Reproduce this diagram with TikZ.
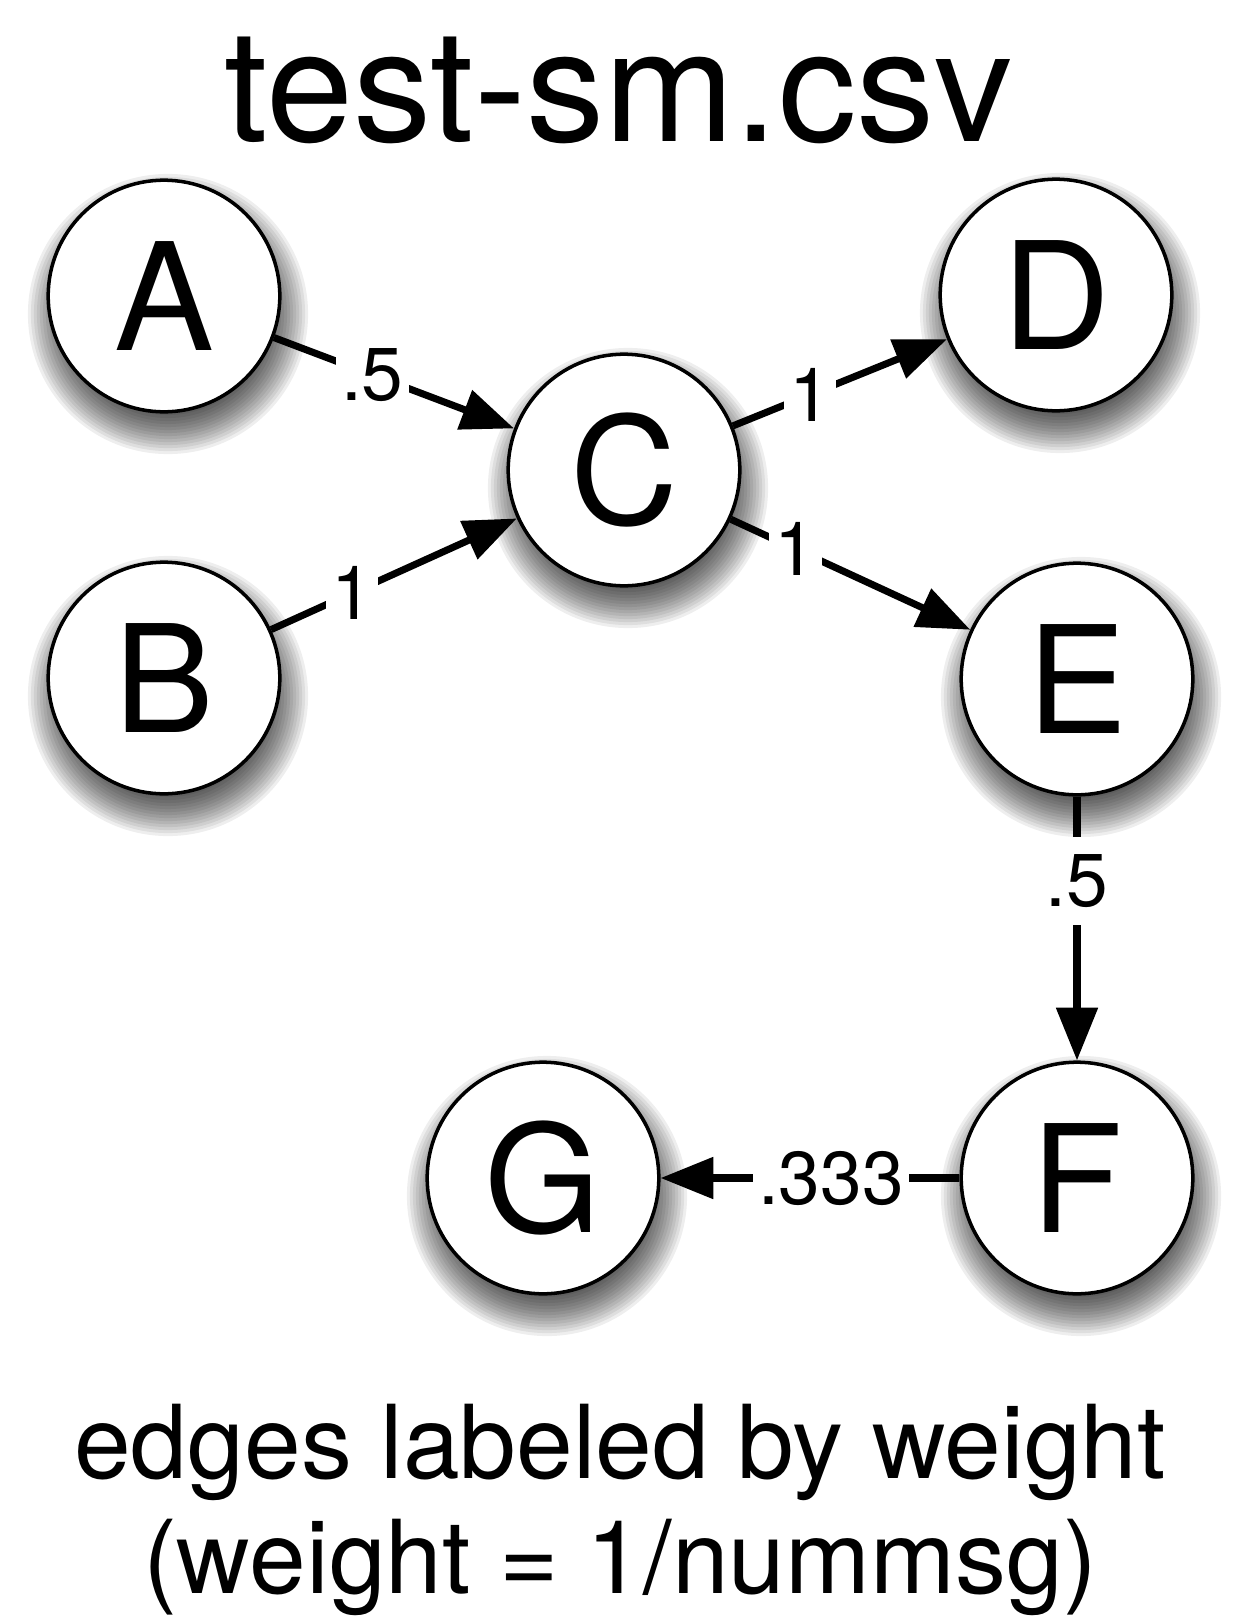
\documentclass[tikz,border=0pt]{standalone}
\usepackage{fontspec}
\setmainfont{TeX Gyre Heros}
\usetikzlibrary{arrows.meta,backgrounds}

\tikzset{
  vtx/.style={circle, draw, line width=1pt, fill=white, minimum size=2.315cm,
    inner sep=0pt, font=\fontsize{42.5}{42.5}\selectfont},
  wedge/.style={line width=2pt, -{Triangle[length=15pt,width=11.5pt]}},
  wt/.style={fill=white, inner xsep=1.5pt, inner ysep=5pt,
    font=\fontsize{21.3}{21.3}\selectfont},
  bigtext/.style={anchor=base, font=\fontsize{44.5}{44.5}\selectfont},
  captext/.style={anchor=base, font=\fontsize{29}{29}\selectfont}
}

\begin{document}
\begin{tikzpicture}[x=0.01cm,y=-0.01cm]
  \useasboundingbox (0,0) rectangle (1237,1624);
  \node[bigtext] (title) at (619,141) {test-sm.csv};
  % vertices
  \node[vtx] (A) at (164,296) {A};
  \node[vtx] (B) at (164,678) {B};
  \node[vtx] (C) at (624,470) {C};
  \node[vtx] (D) at (1056,295) {D};
  \node[vtx] (E) at (1077,679) {E};
  \node[vtx] (F) at (1077,1178) {F};
  \node[vtx] (G) at (543,1178) {G};
  % weighted edges
  \draw[wedge] (A) -- node[wt,pos=.41] {.5} (C);
  \draw[wedge] (B) -- node[wt,pos=.33] {1} (C);
  \draw[wedge] (C) -- node[wt,pos=.36] {1} (D);
  \draw[wedge] (C) -- node[wt,pos=.27] {1} (E);
  \draw[wedge] (E) -- node[wt,pos=.32] {.5} (F);
  \draw[wedge] (F) -- node[wt,pos=.43] {.333} (G);
  \node[captext] (cap1) at (620,1478) {edges labeled by weight};
  \node[captext] (cap2) at (620,1593) {(weight = 1/nummsg)};
  \begin{scope}[on background layer]
    \fill[white] (0,0) rectangle (1237,1624);
    \foreach \n in {A,B,C,D,E,F,G}
      \foreach \k in {0,...,16}
        \fill[black,opacity=.065] ([shift={(4,18)}]\n.center)
          circle[radius={(1.40-0.03*\k)*1cm}];
  \end{scope}
\end{tikzpicture}
\end{document}
